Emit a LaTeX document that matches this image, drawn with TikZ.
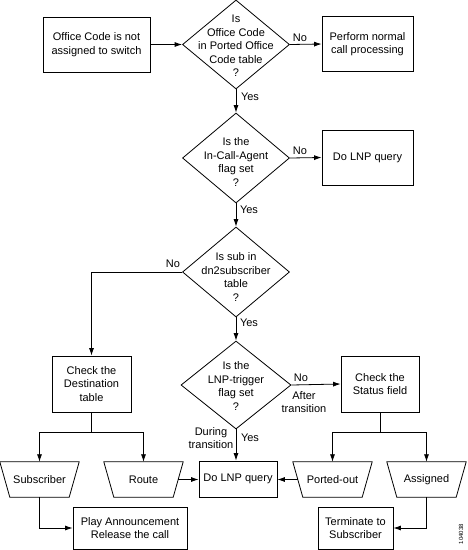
\documentclass[tikz,border=0pt]{standalone}
\usepackage{fontspec}
\setmainfont{Liberation Sans}
\usetikzlibrary{shapes.geometric,arrows.meta}
\begin{document}
\begin{tikzpicture}[x=1pt,y=-1pt,
  every node/.style={font=\fontsize{11}{13.5}\selectfont, inner sep=0pt, align=center},
  box/.style={draw, rectangle, line width=0.8pt},
  dia/.style={draw, diamond, line width=0.8pt, minimum width=107pt, minimum height=89pt},
  trap/.style={rectangle, minimum width=79pt, minimum height=35pt},
  line/.style={line width=0.8pt},
  arr/.style={line width=0.8pt, -{Latex[length=7.5pt,width=5pt]}},
  lbl/.style={font=\fontsize{11}{13}\selectfont}]
\useasboundingbox (0,0) rectangle (468,550);
% row 1
\node[box, minimum width=107pt, minimum height=55pt] (b1) at (96.5,44.5) {Office Code is not\\assigned to switch};
\node[dia] (d1) at (236,44.5) {};
\node (t1) at (236,46) {Is\\Office Code\\in Ported Office\\Code table\\?};
\node[box, minimum width=91pt, minimum height=55pt] (b2) at (367.5,44) {Perform normal\\call processing};
% row 2
\node[dia, minimum height=90pt] (d2) at (236,158) {};
\node (t2) at (236,162) {Is the\\In-Call-Agent\\flag set\\?};
\node[box, minimum width=91pt, minimum height=55pt] (lnp1) at (367.5,157.5) {Do LNP query};
% row 3
\node[dia, minimum height=90pt] (d3) at (236,272) {};
\node (t3) at (236,277) {Is sub in\\dn2subscriber\\table\\?};
% row 4
\node[box, minimum width=79pt, minimum height=56pt] (dest) at (91.5,384) {Check the\\Destination\\table};
\node[dia, minimum width=110pt, minimum height=88pt] (d4) at (236,385) {};
\node (t4) at (236,386) {Is the\\LNP-trigger\\flag set\\?};
\node[box, minimum width=78pt, minimum height=56pt] (status) at (380,384) {Check the\\Status field};
% row 5
\node[trap] (sub) at (39.5,479.5) {Subscriber};
\node[trap] (route) at (143.5,479.5) {Route};
\node[box, minimum width=78pt, minimum height=36pt] (lnp2) at (238,479) {Do LNP query};
\node[trap] (ported) at (332.5,479.5) {Ported-out};
\node[trap] (assigned) at (426.5,479.5) {Assigned};
\foreach \t in {sub,route,ported,assigned}
  \draw[line] (\t.north west) -- (\t.north east) -- ([xshift=-10pt]\t.south east)
     -- ([xshift=10pt]\t.south west) -- cycle;
% row 6
\node[box, minimum width=114pt, minimum height=42pt] (play) at (130,528) {Play Announcement\\Release the call};
\node[box, minimum width=75pt, minimum height=42pt] (term) at (355.5,528) {Terminate to\\Subscriber};
\node[rotate=90, font=\fontsize{6}{7}\selectfont] (id) at (461,534) {104038};
% connectors
\draw[arr] (b1.east) -- (d1.west);
\draw[arr] (d1.east) -- (b2.west);
\node[lbl] (n1) at (300,38) {No};
\draw[arr] (d1.south) -- (d2.north);
\node[lbl] (y1) at (250,97) {Yes};
\draw[arr] (d2.east) -- (lnp1.west);
\node[lbl] (n2) at (300,151) {No};
\draw[arr] (d2.south) -- (d3.north);
\node[lbl] (y2) at (249,210) {Yes};
\draw[arr] (d3.west) -| (dest.north);
\node[lbl] (n3) at (173,264) {No};
\draw[arr] (d3.south) -- (d4.north);
\node[lbl] (y3) at (249,323) {Yes};
\draw[arr] (d4.east) -- (status.west);
\node[lbl] (n4) at (301,378) {No};
\node[lbl] (at) at (304,402.5) {After\\transition};
\draw[arr] (d4.south) -- (d4.south |- lnp2.north);
\node[lbl] (dt) at (211,438.5) {During\\transition};
\node[lbl] (y4) at (250,438) {Yes};
\path (dest.south) ++(0,20) coordinate (dj);
\draw[line] (dest.south) -- (dj);
\draw[arr] (dj) -| (sub.north);
\draw[arr] (dj) -| (route.north);
\path (status.south) ++(0,20) coordinate (sj);
\draw[line] (status.south) -- (sj);
\draw[arr] (sj) -| (ported.north);
\draw[arr] (sj) -| (assigned.north);
\draw[arr] ([xshift=-5pt]route.east) -- (lnp2.west |- route.east);
\draw[arr] ([xshift=5pt]ported.west) -- (lnp2.east |- ported.west);
\draw[arr] (sub.south) |- (play.west);
\draw[arr] (assigned.south) |- (term.east);
\end{tikzpicture}
\end{document}
